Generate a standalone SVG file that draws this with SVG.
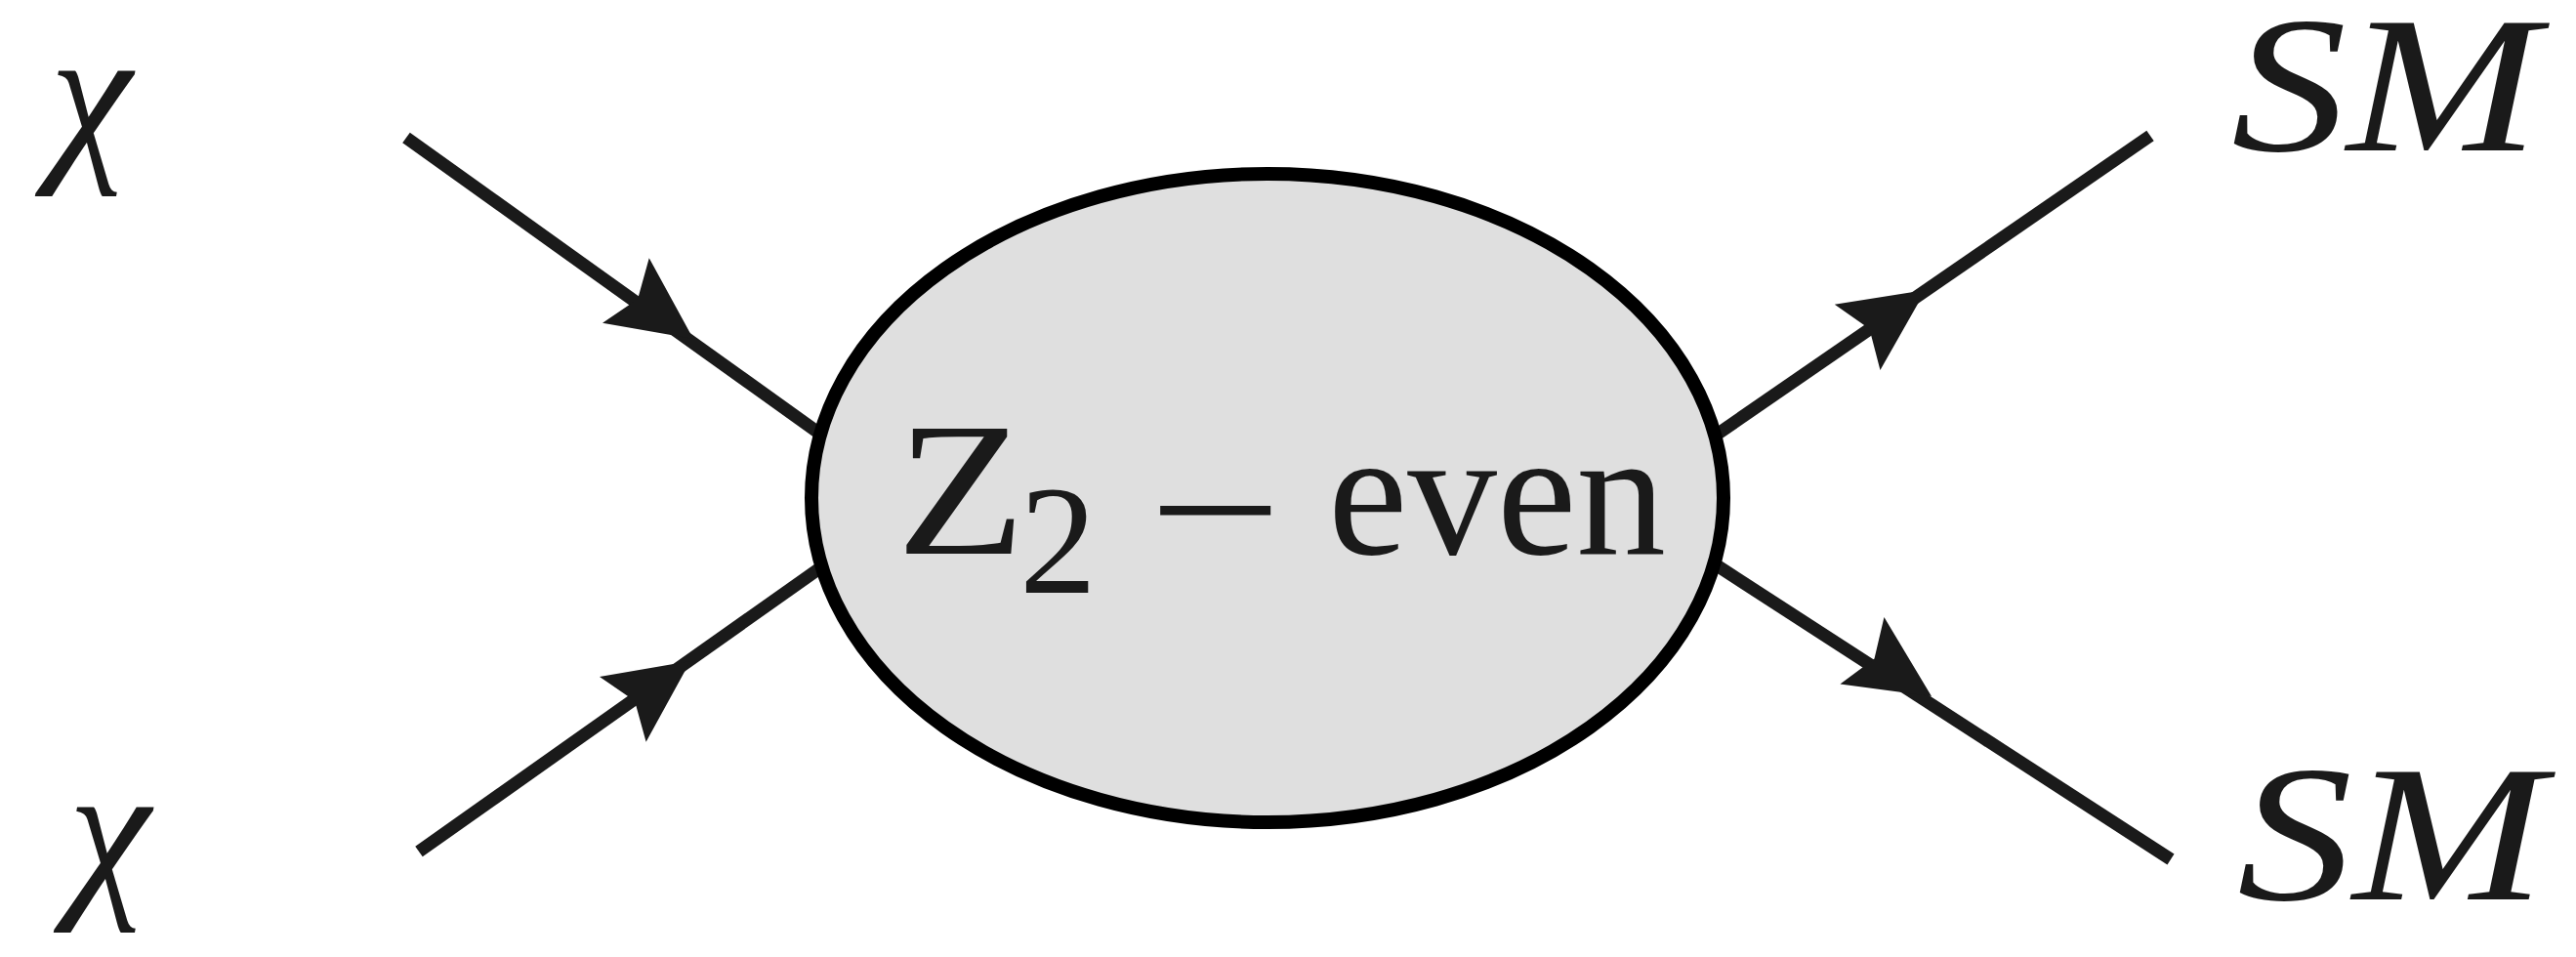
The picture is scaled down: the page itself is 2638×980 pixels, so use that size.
<svg xmlns="http://www.w3.org/2000/svg" width="2638" height="980" viewBox="0 0 2638 980">
<style>
.ln{stroke:#1a1a1a;stroke-width:13;fill:none;stroke-linecap:butt}
.ah{fill:#1a1a1a}
.lbl{font-family:"Liberation Serif","DejaVu Serif",serif;fill:#1a1a1a}
.it{font-style:italic}
</style>
<defs>
<path id="arr" d="M0,0 L-85,-41 L-70,0 L-85,41 Z"/>
</defs>
<rect width="2638" height="980" fill="#ffffff"/>
<g id="connectors">
<line class="ln" x1="416" y1="141" x2="845" y2="448"/>
<line class="ln" x1="429" y1="872" x2="845" y2="578"/>
<line class="ln" x1="1758" y1="445" x2="2202" y2="139"/>
<line class="ln" x1="1755" y1="577" x2="2223" y2="880"/>
<use href="#arr" class="ah" transform="translate(710,347) rotate(35.6)"/>
<use href="#arr" class="ah" transform="translate(707,677) rotate(-35.5)"/>
<use href="#arr" class="ah" transform="translate(1972,297) rotate(-34.7)"/>
<use href="#arr" class="ah" transform="translate(1978,713) rotate(33.3)"/>
</g>
<g id="blob">
<ellipse cx="1298" cy="510" rx="467" ry="332" fill="#dfdfdf" stroke="#000" stroke-width="14"/>
<text class="lbl" x="918" y="567" font-size="195" textLength="132" lengthAdjust="spacingAndGlyphs">Z</text>
<text class="lbl" x="1044" y="607" font-size="158">2</text>
<text class="lbl" x="1176" y="586" font-size="190" textLength="137" lengthAdjust="spacingAndGlyphs">−</text>
<text class="lbl" x="1360" y="567" font-size="185" textLength="346" lengthAdjust="spacingAndGlyphs">even</text>
</g>
<g id="chi-top"><text class="lbl it" x="51" y="160" font-size="190">χ</text></g>
<g id="chi-bottom"><text class="lbl it" x="70" y="914" font-size="190">χ</text></g>
<g id="sm-top"><text class="lbl it" x="2285" y="154" font-size="200" textLength="315" lengthAdjust="spacingAndGlyphs">SM</text></g>
<g id="sm-bottom"><text class="lbl it" x="2291" y="921" font-size="200" textLength="315" lengthAdjust="spacingAndGlyphs">SM</text></g>
</svg>
